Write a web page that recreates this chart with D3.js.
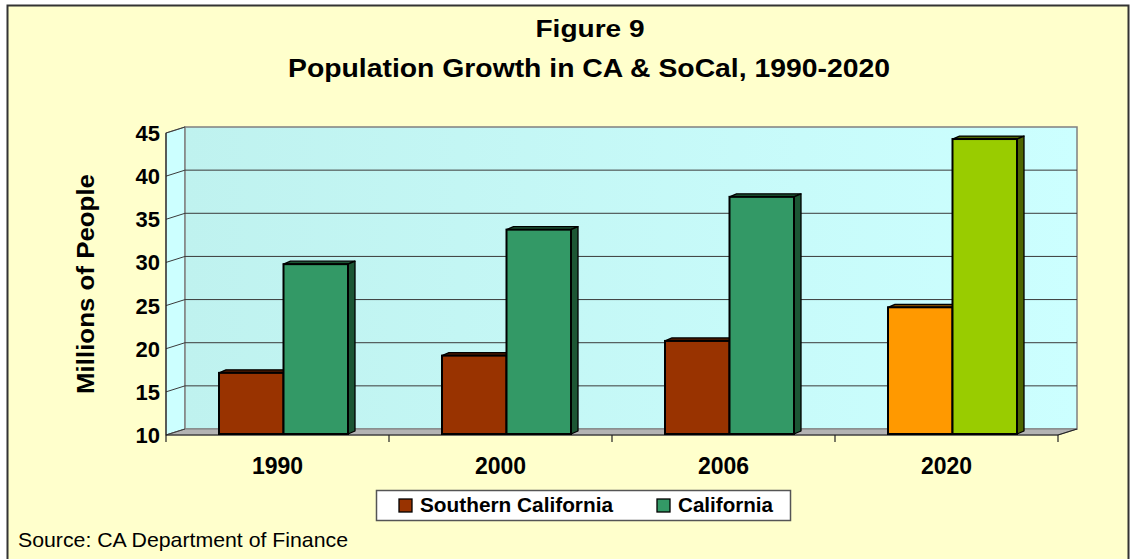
<!DOCTYPE html>
<html>
<head>
<meta charset="utf-8">
<script src="https://cdn.jsdelivr.net/npm/d3@7"></script>
<style>
  html, body { margin: 0; padding: 0; background: #ffffff; }
  svg { display: block; font-family: "Liberation Sans", Arial, sans-serif; }
</style>
</head>
<body>
<svg id="chart" width="1131" height="559"></svg>
<script>
// ---- data ----
const years = ["1990", "2000", "2006", "2020"];
const seriesNames = ["Southern California", "California"];
const socal = [17.2, 19.2, 20.9, 24.8];
const california = [29.8, 33.8, 37.6, 44.3];
const yTicks = [10, 15, 20, 25, 30, 35, 40, 45];
const titleLines = ["Figure 9", "Population Growth in CA & SoCal, 1990-2020"];
const yTitle = "Millions of People";
const sourceText = "Source: CA Department of Finance";

// ---- styles ----
const socalFront = ["#993300", "#993300", "#993300", "#ff9900"];
const socalDark  = ["#4a1800", "#4a1800", "#4a1800", "#7a4a00"];
const caFront    = ["#339966", "#339966", "#339966", "#99cc00"];
const caDark     = ["#1c5634", "#1c5634", "#1c5634", "#4d6600"];
const legendColors = ["#993300", "#339966"];

const svg = d3.select("#chart");

// background frame
svg.append("rect").attr("x", 0).attr("y", 0).attr("width", 1131).attr("height", 559).attr("fill", "#ffffff");
svg.append("rect").attr("x", 7.5).attr("y", 5.5).attr("width", 1121).attr("height", 570)
  .attr("fill", "#ffffcc").attr("stroke", "#333333").attr("stroke-width", 2);

// geometry
const frontL = 166, frontR = 1058;
const depthX = 19, depthY = -6;
const y = d3.scaleLinear().domain([10, 45]).range([435, 133]);
const x = d3.scaleBand().domain(years).range([frontL, frontR]).paddingInner(0).paddingOuter(0);
const inner = d3.scaleBand().domain(seriesNames).range([0, 129]);
const barShift = 6;
const bdx = 7, bdy = -3;

// back wall gradient
const defs = svg.append("defs");
const grad = defs.append("linearGradient").attr("id", "wallGrad")
  .attr("x1", "0%").attr("x2", "100%").attr("y1", "0%").attr("y2", "0%");
grad.append("stop").attr("offset", "0%").attr("stop-color", "#bff2ef");
grad.append("stop").attr("offset", "100%").attr("stop-color", "#ccffff");

const wallTop = y(45) + depthY, wallBot = y(10) + depthY;
// side wall
svg.append("path")
  .attr("d", `M${frontL},${y(45)} L${frontL + depthX},${wallTop} L${frontL + depthX},${wallBot} L${frontL},${y(10)} Z`)
  .attr("fill", "#ccffff").attr("stroke", "#808080").attr("stroke-width", 1.2);
// back wall
svg.append("rect").attr("x", frontL + depthX).attr("y", wallTop)
  .attr("width", frontR + depthX - (frontL + depthX)).attr("height", wallBot - wallTop)
  .attr("fill", "url(#wallGrad)").attr("stroke", "#808080").attr("stroke-width", 1.5);
// floor
svg.append("path")
  .attr("d", `M${frontL},${y(10)} L${frontR},${y(10)} L${frontR + depthX},${wallBot} L${frontL + depthX},${wallBot} Z`)
  .attr("fill", "#b3b3b3").attr("stroke", "#808080").attr("stroke-width", 1);

// gridlines (back wall + side wall)
const grid = svg.append("g");
yTicks.filter(v => v > 10 && v < 45).forEach(v => {
  grid.append("line").attr("x1", frontL + depthX).attr("x2", frontR + depthX)
    .attr("y1", y(v) + depthY).attr("y2", y(v) + depthY)
    .attr("stroke", "#3a3a3a").attr("stroke-width", 1);
});
yTicks.forEach(v => {
  grid.append("line").attr("x1", frontL).attr("x2", frontL + depthX)
    .attr("y1", y(v)).attr("y2", y(v) + depthY)
    .attr("stroke", "#3a3a3a").attr("stroke-width", 1);
});

// axes (front)
const axisG = svg.append("g");
axisG.append("line").attr("x1", frontL).attr("x2", frontL).attr("y1", y(45)).attr("y2", y(10))
  .attr("stroke", "#222").attr("stroke-width", 1.2);
axisG.append("line").attr("x1", frontL).attr("x2", frontR).attr("y1", y(10)).attr("y2", y(10))
  .attr("stroke", "#222").attr("stroke-width", 1.2);
axisG.append("line").attr("x1", frontR).attr("x2", frontR + depthX).attr("y1", y(10)).attr("y2", wallBot)
  .attr("stroke", "#222").attr("stroke-width", 1.2);
// category ticks at band boundaries
const boundaries = years.map(d => x(d)).concat([frontR]);
boundaries.forEach(b => {
  axisG.append("line").attr("x1", b).attr("x2", b).attr("y1", y(10)).attr("y2", y(10) + 7)
    .attr("stroke", "#222").attr("stroke-width", 1.2);
});

// y tick labels
svg.append("g").selectAll("text").data(yTicks).join("text")
  .attr("x", 160).attr("y", d => y(d) + 8)
  .attr("text-anchor", "end").attr("font-weight", "bold").attr("font-size", 22)
  .attr("fill", "#000").text(d => d);

// category labels
svg.append("g").selectAll("text").data(years).join("text")
  .attr("x", d => x(d) + x.bandwidth() / 2).attr("y", 474)
  .attr("text-anchor", "middle").attr("font-weight", "bold").attr("font-size", 23)
  .attr("fill", "#000").text(d => d);

// bars
function drawBar(g, x0, w, val, front, dark) {
  const x1 = x0 + w, yt = y(val), yb = y(10) - 1;
  g.append("path")
    .attr("d", `M${x0},${yt} L${x0 + bdx},${yt + bdy} L${x1 + bdx},${yt + bdy} L${x1},${yt} Z`)
    .attr("fill", dark).attr("stroke", "#000").attr("stroke-width", 1.3).attr("stroke-linejoin", "round");
  g.append("path")
    .attr("d", `M${x1},${yt} L${x1 + bdx},${yt + bdy} L${x1 + bdx},${yb + bdy} L${x1},${yb} Z`)
    .attr("fill", dark).attr("stroke", "#000").attr("stroke-width", 1.3).attr("stroke-linejoin", "round");
  g.append("rect").attr("x", x0).attr("y", yt).attr("width", w).attr("height", yb - yt)
    .attr("fill", front).attr("stroke", "#000").attr("stroke-width", 2);
}
const barsG = svg.append("g");
years.forEach((yr, i) => {
  const start = x(yr) + (x.bandwidth() - inner.range()[1]) / 2 + barShift;
  const g = barsG.append("g");
  drawBar(g, start + inner(seriesNames[0]), inner.bandwidth(), socal[i], socalFront[i], socalDark[i]);
  drawBar(g, start + inner(seriesNames[1]), inner.bandwidth(), california[i], caFront[i], caDark[i]);
});

// titles
svg.append("text").attr("x", 590).attr("y", 37).attr("text-anchor", "middle")
  .attr("font-weight", "bold").attr("font-size", 24)
  .attr("textLength", 109).attr("lengthAdjust", "spacingAndGlyphs")
  .text(titleLines[0]);
svg.append("text").attr("x", 589).attr("y", 77).attr("text-anchor", "middle")
  .attr("font-weight", "bold").attr("font-size", 25)
  .attr("textLength", 602).attr("lengthAdjust", "spacingAndGlyphs")
  .text(titleLines[1]);

// y axis title
svg.append("text")
  .attr("transform", `translate(94,${(y(45) + y(10)) / 2}) rotate(-90)`)
  .attr("text-anchor", "middle").attr("font-weight", "bold").attr("font-size", 23)
  .attr("textLength", 220).attr("lengthAdjust", "spacingAndGlyphs")
  .text(yTitle);

// legend
const lg = svg.append("g");
lg.append("rect").attr("x", 376.5).attr("y", 490.5).attr("width", 414).attr("height", 30)
  .attr("fill", "#ffffff").attr("stroke", "#555555").attr("stroke-width", 1.5);
const legX = [399, 657], legTX = [420, 678], legLen = [193, 95];
seriesNames.forEach((s, i) => {
  lg.append("rect").attr("x", legX[i]).attr("y", 499).attr("width", 13).attr("height", 13)
    .attr("fill", legendColors[i]).attr("stroke", "#000").attr("stroke-width", 1.3);
  lg.append("text").attr("x", legTX[i]).attr("y", 512)
    .attr("font-weight", "bold").attr("font-size", 20.5)
    .attr("textLength", legLen[i]).attr("lengthAdjust", "spacingAndGlyphs")
    .text(s);
});

// source
svg.append("text").attr("x", 18).attr("y", 547).attr("font-size", 21)
  .attr("textLength", 330).attr("lengthAdjust", "spacingAndGlyphs")
  .text(sourceText);
</script>
</body>
</html>
